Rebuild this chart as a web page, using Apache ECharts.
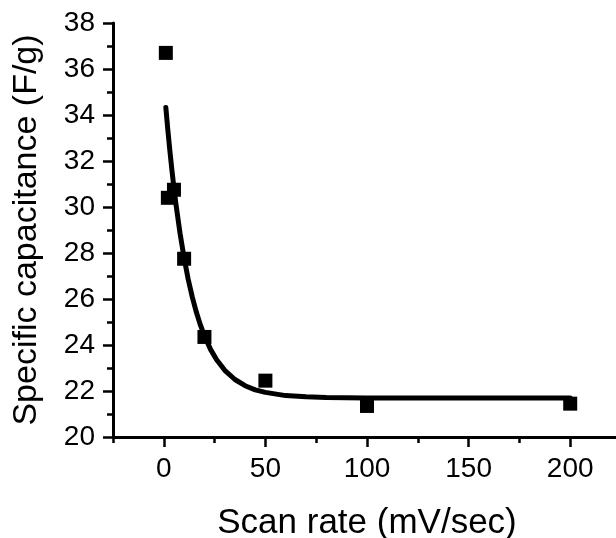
<!DOCTYPE html>
<html>
<head>
<meta charset="utf-8">
<script src="https://cdn.jsdelivr.net/npm/echarts@6/dist/echarts.min.js"></script>
<style>
html,body{margin:0;padding:0;background:#fff;}
#chart{width:616px;height:538px;}
</style>
</head>
<body>
<div id="chart"></div>
<script>
// Measured data (squares)
const scanRate = [1, 2, 5, 10, 20, 50, 100, 200];
const capacitance = [36.7, 30.4, 30.75, 27.75, 24.35, 22.45, 21.35, 21.45];
// Fitted curve
const fitRate = [1, 2, 3, 4, 5, 6, 8, 10, 12, 14, 16, 18, 20, 23, 26, 30, 35, 40, 45, 50, 60, 70, 80, 100, 150, 200];
const fitCap = [34.33, 33.34, 32.43, 31.6, 30.82, 30.11, 28.85, 27.78, 26.86, 26.09, 25.43, 24.87, 24.4, 23.81, 23.36, 22.9, 22.5, 22.23, 22.05, 21.94, 21.8, 21.75, 21.72, 21.7, 21.7, 21.7];
// Tick values
const xMajorTicks = [0, 50, 100, 150, 200];
const xMinorTicks = [-25, 25, 75, 125, 175, 225];
const xRange = [-25, 225];
const yRange = [20, 38];
const yInterval = 2;
const xTitle = 'Scan rate (mV/sec)';
const yTitle = 'Specific capacitance (F/g)';

const font = 'Liberation Sans, Arial, sans-serif';
const chart = echarts.init(document.getElementById('chart'), null, {renderer: 'canvas'});

const pts = scanRate.map((x, i) => [x, capacitance[i]]);
const fit = fitRate.map((x, i) => [x, fitCap[i]]);

chart.setOption({
  animation: false,
  backgroundColor: '#fff',
  grid: {left: 113, top: 23, bottom: 101, right: -5, containLabel: false, outerBoundsMode: 'none'},
  xAxis: [{
    type: 'value',
    min: xRange[0], max: xRange[1],
    name: xTitle,
    nameLocation: 'middle',
    nameGap: 69,
    nameTextStyle: {fontFamily: font, fontSize: 35, color: '#000'},
    axisLine: {show: true, onZero: false, lineStyle: {color: '#000', width: 3}},
    axisTick: {show: true, inside: false, length: 10, customValues: xMajorTicks, lineStyle: {color: '#000', width: 2.5}},
    axisLabel: {show: true, customValues: xMajorTicks, margin: 18, fontFamily: font, fontSize: 28, color: '#000'},
    splitLine: {show: false}
  }, {
    type: 'value',
    min: xRange[0], max: xRange[1],
    position: 'bottom',
    axisLine: {show: false, onZero: false},
    axisTick: {show: true, inside: false, length: 6, customValues: xMinorTicks, lineStyle: {color: '#000', width: 2.5}},
    axisLabel: {show: false},
    splitLine: {show: false}
  }],
  yAxis: {
    type: 'value',
    min: yRange[0], max: yRange[1], interval: yInterval,
    name: yTitle,
    nameLocation: 'middle',
    nameRotate: 90,
    nameGap: 69,
    nameTextStyle: {fontFamily: font, fontSize: 34, color: '#000'},
    axisLine: {show: true, onZero: false, lineStyle: {color: '#000', width: 3}},
    axisTick: {show: true, inside: false, length: 10, lineStyle: {color: '#000', width: 2.5}},
    minorTick: {show: true, splitNumber: 2, length: 6, lineStyle: {color: '#000', width: 2.5}},
    axisLabel: {margin: 18, fontFamily: font, fontSize: 28, color: '#000'},
    splitLine: {show: false},
    minorSplitLine: {show: false}
  },
  series: [{
    type: 'line',
    data: fit,
    xAxisIndex: 0,
    smooth: false,
    showSymbol: false,
    symbol: 'none',
    lineStyle: {color: '#000', width: 5, cap: 'round', join: 'round'},
    z: 2
  }, {
    type: 'scatter',
    data: pts,
    xAxisIndex: 0,
    symbol: 'rect',
    symbolSize: 14,
    itemStyle: {color: '#000', opacity: 1},
    z: 3
  }]
});
</script>
</body>
</html>
